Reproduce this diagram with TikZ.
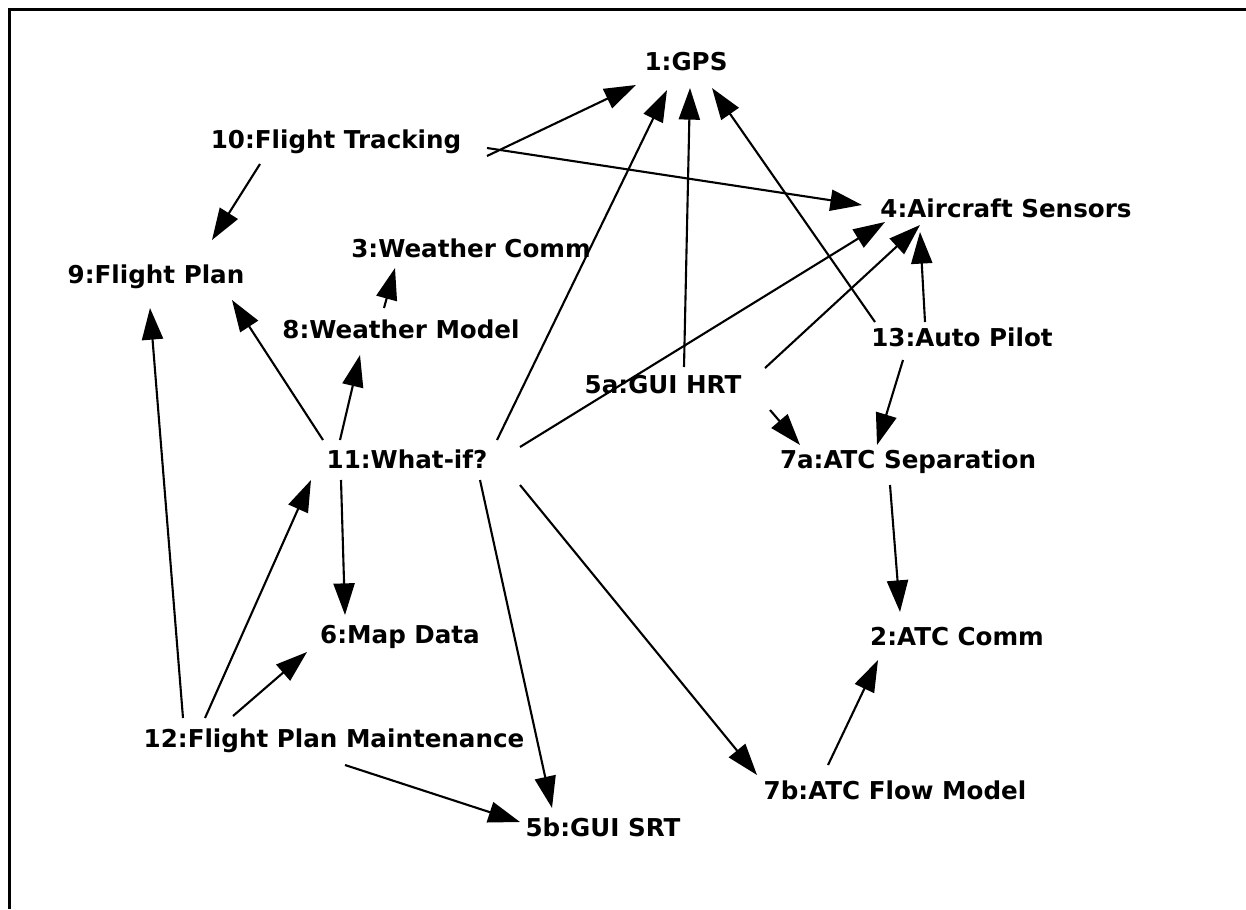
\documentclass[tikz,border=0pt]{standalone}
\usepackage{fontspec}
\setmainfont{DejaVu Sans}
\usetikzlibrary{arrows.meta, calc}

\begin{document}
\begin{tikzpicture}[
  x=0.02cm, y=-0.02cm,
  task/.style={font=\fontsize{14}{16}\selectfont\bfseries, inner sep=3pt},
  dep/.style={-{Triangle[length=18pt,width=12pt]}, line width=1.2pt}
]
\useasboundingbox (0,0) rectangle (1246,909);
\draw[line width=1.8pt] (1246,9.5) -- (9.5,9.5) -- (9.5,909);

\node[task] (gps)     at (686,62)  {1:GPS};
\node[task] (track)   at (336,142) {10:Flight Tracking};
\node[task] (sensors) at (1006,208) {4:Aircraft Sensors};
\node[task] (wcomm)   at (471,248) {3:Weather Comm};
\node[task] (plan)    at (156,277) {9:Flight Plan};
\node[task] (wmodel)  at (401,329) {8:Weather Model};
\node[task] (pilot)   at (962,337) {13:Auto Pilot};
\node[task] (hrt)     at (663,385) {5a:GUI HRT};
\node[task] (whatif)  at (407,459) {11:What-if?};
\node[task] (sep)     at (908,462) {7a:ATC Separation};
\node[task] (map)     at (400,637) {6:Map Data};
\node[task] (atc)     at (957,637) {2:ATC Comm};
\node[task] (maint)   at (334,741) {12:Flight Plan Maintenance};
\node[task] (flow)    at (895,790) {7b:ATC Flow Model};
\node[task] (srt)     at (603,827) {5b:GUI SRT};

% flight tracking
\draw[dep] ($(track)+(151,14)$) -- ($(gps)+(-50,23)$);
\draw[dep] ($(track)+(151,6)$) -- ($(sensors)+(-144,-3)$);
\draw[dep] ($(track)+(-76,22)$) -- ($(plan)+(56,-37)$);

% what-if
\draw[dep] ($(whatif)+(-84,-19)$) -- ($(plan)+(76,23)$);
\draw[dep] ($(whatif)+(-67,-19)$) -- ($(wmodel)+(-41,26)$);
\draw[dep] ($(wmodel)+(-17,-21)$) -- ($(wcomm)+(-76,20)$);
\draw[dep] ($(whatif)+(90,-19)$) -- ($(gps)+(-19,28)$);
\draw[dep] ($(whatif)+(113,-12)$) -- ($(sensors)+(-121,14)$);
\draw[dep] ($(whatif)+(-66,21)$) -- ($(map)+(-55,-22)$);
\draw[dep] ($(whatif)+(73,21)$) -- ($(srt)+(-51,-19)$);
\draw[dep] ($(whatif)+(113,26)$) -- ($(flow)+(-138,-15)$);

% maintenance
\draw[dep] ($(maint)+(-129,-23)$) -- ($(whatif)+(-96,21)$);
\draw[dep] ($(maint)+(-151,-23)$) -- ($(plan)+(-6,31)$);
\draw[dep] ($(maint)+(-101,-25)$) -- ($(map)+(-93,15)$);
\draw[dep] ($(maint)+(11,24)$) -- ($(srt)+(-83,-5)$);

% hard real-time side
\draw[dep] ($(hrt)+(21,-18)$) -- ($(gps)+(4,26)$);
\draw[dep] ($(hrt)+(102,-17)$) -- ($(sensors)+(-86,17)$);
\draw[dep] ($(pilot)+(-87,-15)$) -- ($(gps)+(26,26)$);
\draw[dep] ($(pilot)+(-37,-15)$) -- ($(sensors)+(-86,24)$);
\draw[dep] ($(pilot)+(-59,23)$) -- ($(sep)+(-31,-17)$);
\draw[dep] ($(hrt)+(107,25)$) -- ($(sep)+(-108,-17)$);
\draw[dep] ($(sep)+(-18,23)$) -- ($(atc)+(-57,-25)$);
\draw[dep] ($(flow)+(-67,-25)$) -- ($(atc)+(-79,23)$);
\end{tikzpicture}
\end{document}
